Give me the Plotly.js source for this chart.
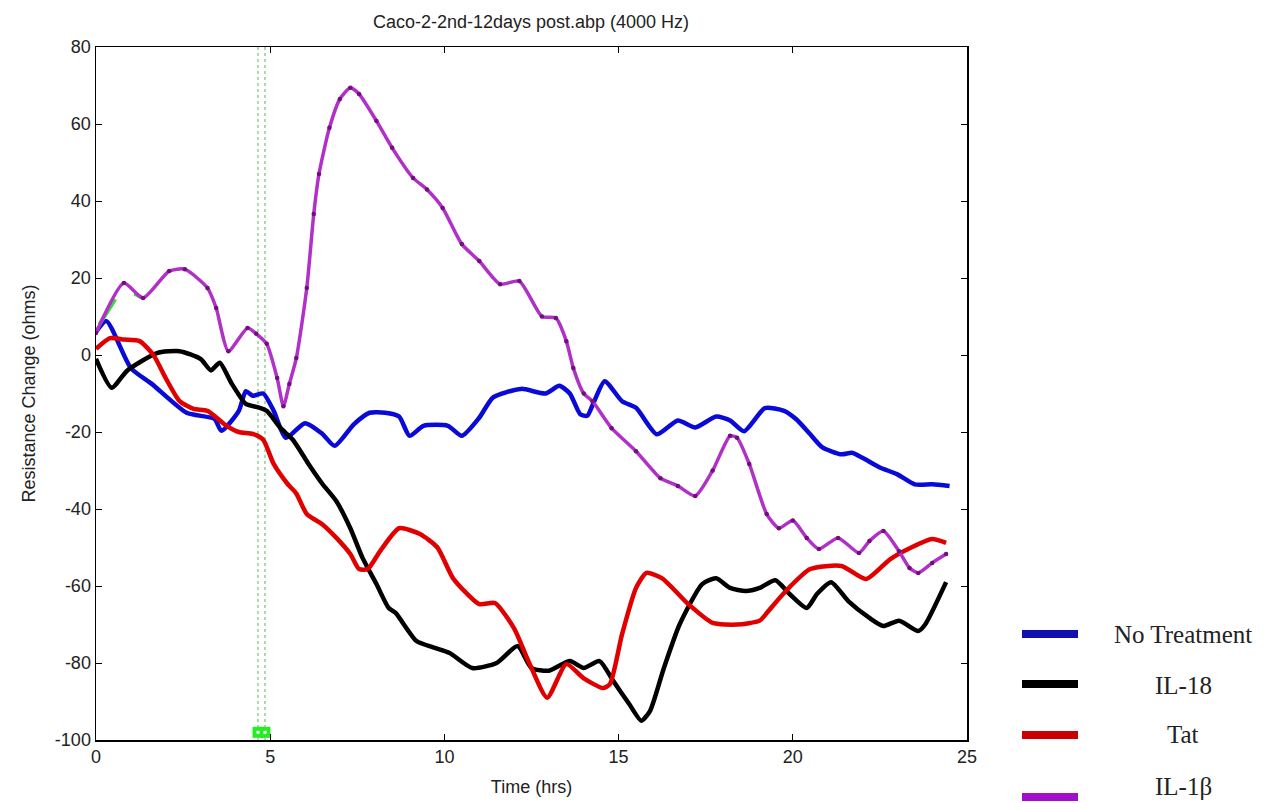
<!DOCTYPE html>
<html>
<head>
<meta charset="utf-8">
<script src="https://cdn.plot.ly/plotly-3.0.1.min.js"></script>
<style>html,body{margin:0;padding:0;background:#fff;}#chart{width:1277px;height:803px;}</style>
</head>
<body>
<div id="chart"></div>
<script>
// ---- data ----
const seriesNames = ["No Treatment", "IL-18", "Tat", "IL-1\u03b2"];

const tNoTreatment = [0, 0.3, 1.0, 1.6, 2.6, 3.4, 3.6, 4.1, 4.3, 4.5, 4.8, 5.1, 5.45, 6.0, 6.5, 6.85, 7.4, 7.85, 8.3, 8.7, 9.0, 9.4, 10.1, 10.5, 11.0, 11.4, 12.2, 12.9, 13.3, 13.6, 13.9, 14.1, 14.3, 14.6, 15.1, 15.5, 16.1, 16.7, 17.2, 17.8, 18.2, 18.6, 19.2, 19.75, 20.1, 20.5, 20.85, 21.4, 21.7, 22.0, 22.5, 23.0, 23.5, 24.0, 24.5];
const vNoTreatment = [6, 8.8, -3.4, -7.5, -15, -16.6, -19.7, -14.5, -9.4, -10.6, -10, -14.5, -21.5, -17.7, -20.5, -23.6, -18, -15, -15, -16, -21, -18.4, -18.4, -21, -16.3, -11, -8.8, -10, -8, -10, -15.4, -15.8, -12, -6.8, -12, -13.7, -20.6, -17, -18.8, -16, -17, -19.8, -13.8, -14.5, -16.7, -20.6, -24, -25.8, -25.4, -26.7, -29.2, -31, -33.6, -33.6, -34];

const tIL18 = [0, 0.45, 0.9, 1.75, 2.4, 3.0, 3.3, 3.55, 3.9, 4.3, 4.7, 4.9, 5.3, 5.65, 6.1, 6.5, 6.9, 7.3, 7.65, 8.05, 8.4, 8.6, 9.2, 9.7, 10.15, 10.8, 11.5, 12.1, 12.5, 13.0, 13.6, 14.0, 14.45, 14.85, 15.3, 15.65, 15.9, 16.3, 16.75, 17.4, 17.8, 18.2, 18.65, 19.05, 19.5, 19.9, 20.4, 20.7, 21.1, 21.6, 22.2, 22.6, 23.05, 23.6, 23.8, 24.4];
const vIL18 = [-1, -8.5, -4, 0.5, 1, -1, -4, -2, -7.5, -12.7, -13.7, -14.5, -19, -22, -28.3, -33.5, -38, -45, -52.7, -59.5, -65.7, -67, -74.3, -76, -77.4, -81.3, -80, -75.6, -81.3, -82, -79.5, -81.3, -79.5, -84.7, -90.6, -95, -92.5, -81.3, -70, -59.5, -58, -60.5, -61.3, -60.5, -58.5, -62, -65.7, -62, -59, -64, -68.3, -70.4, -69, -71.7, -70, -59];

const tTat = [0, 0.4, 0.8, 1.25, 1.65, 2.0, 2.4, 2.8, 3.2, 3.75, 4.1, 4.5, 4.8, 5.1, 5.5, 5.75, 6.05, 6.5, 6.9, 7.3, 7.55, 7.8, 8.15, 8.7, 9.3, 9.8, 10.25, 11.0, 11.45, 12.0, 12.45, 12.95, 13.5, 14.0, 14.55, 14.75, 15.1, 15.5, 15.8, 16.25, 17.0, 17.7, 18.4, 19.05, 19.3, 19.8, 20.5, 21.4, 22.1, 22.8, 23.4, 24.0, 24.4];
const vTat = [1.6, 4.4, 4, 3.6, 0, -6, -12, -14, -14.5, -18.4, -20, -20.5, -22, -28.3, -33.5, -36, -41.3, -44, -47.5, -51.7, -55.6, -55.6, -51, -45, -46.5, -50, -58, -64.7, -64.4, -71, -80.3, -89, -80.3, -84, -86.5, -85.5, -72.5, -60.5, -56.6, -58, -64.7, -69.6, -70, -69, -66.5, -61.3, -55.6, -54.8, -58.2, -53, -50, -47.8, -48.8];

const tIL1b = [0, 0.8, 1.35, 2.1, 2.55, 3.2, 3.45, 3.8, 4.35, 4.6, 4.9, 5.2, 5.38, 5.55, 5.75, 6.05, 6.25, 6.4, 6.7, 7.0, 7.3, 7.55, 8.05, 8.5, 9.1, 9.5, 9.95, 10.5, 11.0, 11.6, 12.15, 12.8, 13.2, 13.5, 13.7, 14.0, 14.25, 14.8, 15.5, 16.2, 16.7, 17.2, 17.7, 18.2, 18.4, 18.75, 19.25, 19.6, 20.0, 20.4, 20.75, 21.3, 21.9, 22.2, 22.6, 23.05, 23.35, 23.6, 24.0, 24.4];
const vIL1b = [5.7, 18.7, 14.8, 21.8, 22.3, 17.4, 12.2, 1, 7, 5.5, 2.9, -6, -13.3, -7.5, -0.8, 17.4, 36.6, 47, 59, 66.5, 69.4, 67.8, 60.8, 53.8, 46, 43, 38.2, 28.8, 24.4, 18.4, 19.2, 10, 9.6, 3.6, -3.4, -10, -12, -19, -25, -32, -34, -36.6, -30, -21, -21.5, -28.3, -41.3, -45, -43, -47.5, -50.4, -47.5, -51.4, -48.3, -45.7, -51, -55.3, -56.6, -54, -51.7];

// short green trace partly hidden at the start
const tGreen = [0.1, 0.3, 0.55, null, 1.1, 1.3];
const vGreen = [8, 11, 14.5, null, 16, 15];

// event markers (hrs)
const eventTimes = [4.65, 4.85];
const eventLevel = [-98, -98];

const xTicks = [0, 5, 10, 15, 20, 25];
const xTickLabels = ["0", "5", "10", "15", "20", "25"];
const yTicks = [-100, -80, -60, -40, -20, 0, 20, 40, 60, 80];
const yTickLabels = ["-100", "-80", "-60", "-40", "-20", "0", "20", "40", "60", "80"];

// ---- styling ----
const colors = ["#0a0ad8", "#000000", "#e00000", "#b030c8"];
const legendColors = ["#1010b0", "#000000", "#cc0000", "#a010c8"];

const traces = [
  {x: tNoTreatment, y: vNoTreatment, name: seriesNames[0], mode: "lines", line: {color: colors[0], width: 4.5, shape: "spline", smoothing: 0.6}},
  {x: tIL18, y: vIL18, name: seriesNames[1], mode: "lines", line: {color: colors[1], width: 4.5, shape: "spline", smoothing: 0.6}},
  {x: tTat, y: vTat, name: seriesNames[2], mode: "lines", line: {color: colors[2], width: 4.5, shape: "spline", smoothing: 0.6}},
  {x: tGreen, y: vGreen, name: "g", mode: "lines", line: {color: "#33dd33", width: 4}, connectgaps: false},
  {x: tIL1b, y: vIL1b, name: seriesNames[3], mode: "lines+markers", line: {color: colors[3], width: 3.5, shape: "spline", smoothing: 0.6},
   marker: {color: "#701078", size: 4.5}},
  {x: eventTimes, y: eventLevel, mode: "markers", marker: {symbol: "square", color: "#22ee22", size: 11}, hoverinfo: "skip"},
  {x: eventTimes, y: eventLevel, mode: "markers", marker: {symbol: "square", color: "#ffffff", size: 3}, hoverinfo: "skip"}
];

const shapes = eventTimes.map(t => ({
  type: "line", xref: "x", yref: "paper", x0: t, x1: t, y0: 0, y1: 1,
  line: {color: "#8fd08f", width: 1.5, dash: "dot"}, layer: "below"
}));

// legend drawn at the right, outside the plot
const plotL = 96, plotW = 871, plotB = 740, plotH = 693;
const legLineY = [634, 684, 735, 797];
const legTextY = [634, 685, 734, 786];
const annotations = [];
seriesNames.forEach((n, i) => {
  shapes.push({type: "line", xref: "paper", yref: "paper",
    x0: (1022 - plotL) / plotW, x1: (1078 - plotL) / plotW,
    y0: (plotB - legLineY[i]) / plotH, y1: (plotB - legLineY[i]) / plotH,
    line: {color: legendColors[i], width: 8}});
  annotations.push({xref: "paper", yref: "paper", x: (1183 - plotL) / plotW, y: (plotB - legTextY[i]) / plotH,
    text: n, showarrow: false, xanchor: "center", yanchor: "middle",
    font: {family: "Liberation Serif, Times New Roman, serif", size: 25, color: "#222"}});
});

const layout = {
  width: 1277, height: 803,
  margin: {l: 96, r: 310, t: 47, b: 63},
  paper_bgcolor: "#ffffff", plot_bgcolor: "#ffffff",
  showlegend: false,
  title: {text: "Caco-2-2nd-12days post.abp (4000 Hz)", x: 531 / 1277, xanchor: "center", y: 1 - 22 / 803, yanchor: "middle",
    font: {family: "Liberation Sans, Arial, sans-serif", size: 18, color: "#222"}},
  font: {family: "Liberation Sans, Arial, sans-serif", size: 18, color: "#222"},
  xaxis: {range: [0, 25], tickvals: xTicks, ticktext: xTickLabels, ticks: "inside", ticklen: 6, tickcolor: "#000",
    showline: true, linecolor: "#000", linewidth: 1.5, mirror: "ticks", showgrid: false, zeroline: false,
    title: {text: "Time (hrs)", font: {size: 18}, standoff: 14}, tickfont: {size: 18}},
  yaxis: {range: [-100, 80], tickvals: yTicks, ticktext: yTickLabels, ticks: "inside", ticklen: 6, tickcolor: "#000",
    showline: true, linecolor: "#000", linewidth: 1.5, mirror: "ticks", showgrid: false, zeroline: false,
    title: {text: "Resistance Change (ohms)", font: {size: 18}, standoff: 14}, tickfont: {size: 18}},
  shapes: shapes,
  annotations: annotations
};

Plotly.newPlot("chart", traces, layout, {displayModeBar: false, staticPlot: true});
</script>
</body>
</html>
